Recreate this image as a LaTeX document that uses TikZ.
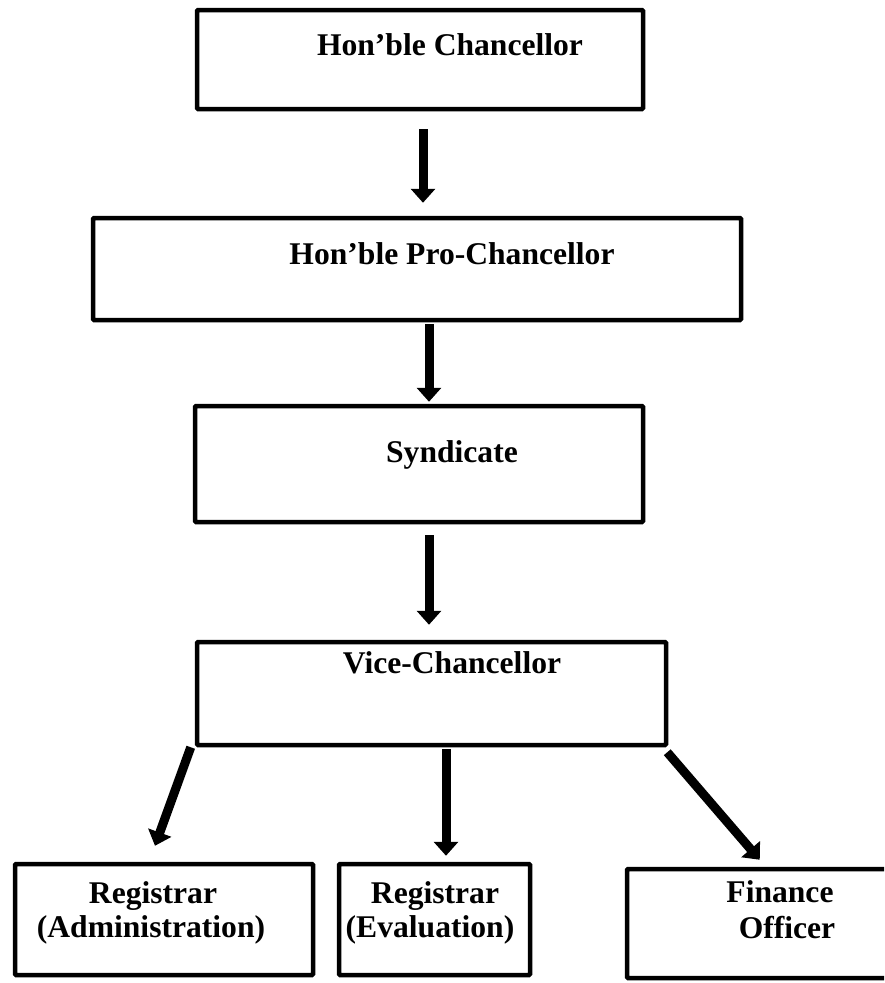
\documentclass[tikz,border=0pt]{standalone}
\usepackage{fontspec}
\setmainfont{Liberation Serif}
\usetikzlibrary{arrows.meta}
\begin{document}
\begin{tikzpicture}[x=1pt,y=-1pt,
  box/.style={draw=black,line width=4.5pt,rounded corners=1pt,inner sep=0pt,fill=none},
  lbl/.style={anchor=base,inner sep=0pt,font=\fontsize{31.6}{34}\selectfont\bfseries},
  arr/.style={line width=9pt,-{Triangle[width=24pt,length=14pt]}}]
\useasboundingbox (0,0) rectangle (884,983);
\clip (0,0) rectangle (884,983);
\fill[white] (0,0) rectangle (884,983);
% boxes
\node[box,minimum width=446pt,minimum height=99pt] (b1) at (420,59.5) {};
\node[box,minimum width=648pt,minimum height=102pt] (b2) at (417,269) {};
\node[box,minimum width=448pt,minimum height=116pt] (b3) at (419,464) {};
\node[box,minimum width=469pt,minimum height=103pt] (b4) at (431.5,693.5) {};
\node[box,minimum width=298pt,minimum height=111pt] (bA) at (164,919.5) {};
\node[box,minimum width=191pt,minimum height=111pt] (bB) at (434.5,919.5) {};
\node[box,minimum width=300pt,minimum height=109pt] (bC) at (777,923.5) {};
% texts
\node[lbl] (t1) at (450,55) {Hon’ble Chancellor};
\node[lbl] (t2) at (452,264) {Hon’ble Pro-Chancellor};
\node[lbl] (t3) at (452,462) {Syndicate};
\node[lbl] (t4) at (452,673) {Vice-Chancellor};
\node[lbl] (tA1) at (153,903) {Registrar};
\node[lbl] (tA2) at (151,937) {(Administration)};
\node[lbl] (tB1) at (435,903) {Registrar};
\node[lbl] (tB2) at (430,937) {(Evaluation)};
\node[lbl] (tC1) at (780,902) {Finance};
\node[lbl] (tC2) at (787,938) {Officer};
% arrows
\draw[arr] ([shift={(3,18)}]b1.south) -- ([shift={(6,-13)}]b2.north);
\draw[arr] ([shift={(12,2)}]b2.south) -- ([shift={(10,-2)}]b3.north);
\draw[arr] ([shift={(10,11)}]b3.south) -- ([shift={(-2.5,-15)}]b4.north);
\draw[arr] ([shift={(-4,0)}]b4.south west) -- ([shift={(-9,-16)}]bA.north);
\draw[arr] ([shift={(14.5,2)}]b4.south) -- ([shift={(11.5,-6)}]bB.north);
\draw[arr] ([shift={(-1,5)}]b4.south east) -- ([shift={(135,-7)}]bC.north west);
\end{tikzpicture}
\end{document}
